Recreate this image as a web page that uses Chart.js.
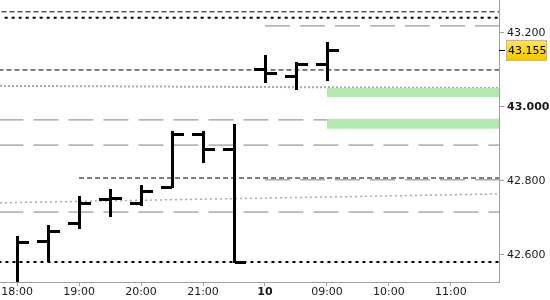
<!DOCTYPE html>
<html>
<head>
<meta charset="utf-8">
<script src="https://cdn.jsdelivr.net/npm/chart.js@4"></script>
<style>
  html, body { margin: 0; padding: 0; background: #fff; }
</style>
</head>
<body>
<canvas id="chart" width="550" height="300"></canvas>
<script>
// 30 minute bars, overnight gap between 21:30 and 08:00
const barTimes = ['18:00','18:30','19:00','19:30','20:00','20:30','21:00','21:30','08:00','08:30','09:00'];
const opens  = [42.505, 42.638, 42.686, 42.752, 42.741, 42.784, 42.927, 42.886, 43.103, 43.084, 43.116];
const highs  = [42.649, 42.678, 42.757, 42.776, 42.786, 42.932, 42.932, 42.951, 43.138, 43.119, 43.173];
const lows   = [42.500, 42.584, 42.673, 42.705, 42.735, 42.784, 42.851, 42.581, 43.068, 43.049, 43.073];
const closes = [42.635, 42.665, 42.741, 42.754, 42.773, 42.927, 42.886, 42.581, 43.092, 43.116, 43.155];

// x axis labels and the bar slot they sit on
const tickLabels = ['18:00','19:00','20:00','21:00','10','09:00','10:00','11:00'];
const tickSlots  = [0, 2, 4, 6, 8, 10, 12, 14];
const priceTicks = [42.6, 42.8, 43.0, 43.2];

// horizontal levels: price and the slot they start from
const levelValues = [43.257, 43.241, 43.219, 43.100, 42.965, 42.897, 42.808, 42.803, 42.716, 42.581];
const levelStarts = [-0.5, -0.4, 8, -0.6, -0.6, -0.6, 2, 8, -0.6, -0.6];
const levelKinds  = ['dash', 'dot', 'gray', 'dash', 'gray', 'gray', 'dash', 'gray', 'gray', 'dot'];

// sloped trend lines (value at left edge, value at right edge)
const trendUpper = [43.057, 43.051];
const trendLower = [42.741, 42.765];

// zones from 09:00 onwards
const zoneHigh  = [43.051, 42.968];
const zoneLow   = [43.027, 42.941];
const zoneMid   = 42.957;
const zoneStart = 10;

const xMin = -0.55, xMax = 15.55;
const yMin = 42.527, yMax = 43.289;

const styles = {
  dash: {borderColor: '#000', borderWidth: 1, borderDash: [5, 3]},
  dot:  {borderColor: '#000', borderWidth: 2, borderDash: [3, 4]},
  gray: {borderColor: '#808080', borderWidth: 1, borderDash: [25, 10]}
};

const datasets = [];
zoneHigh.forEach((hi, i) => {
  datasets.push({data: [{x: zoneStart, y: hi}, {x: xMax, y: hi}], borderWidth: 0,
    backgroundColor: '#b4e8b0', fill: '+1', pointRadius: 0});
  datasets.push({data: [{x: zoneStart, y: zoneLow[i]}, {x: xMax, y: zoneLow[i]}], borderWidth: 0,
    pointRadius: 0, fill: false});
});
datasets.push({data: [{x: zoneStart, y: zoneMid}, {x: xMax, y: zoneMid}],
  borderColor: '#5cc45a', borderWidth: 1, pointRadius: 0, fill: false});

levelValues.forEach((v, i) => {
  datasets.push(Object.assign({data: [{x: levelStarts[i], y: v}, {x: xMax, y: v}],
    pointRadius: 0, fill: false}, styles[levelKinds[i]]));
});
[trendUpper, trendLower].forEach((t, i) => {
  datasets.push({data: [{x: xMin, y: t[0]}, {x: xMax, y: t[1]}], pointRadius: 0, fill: false,
    borderColor: '#aaaaaa', borderWidth: i ? 1.5 : 2, borderDash: i ? [2, 3] : [2, 2]});
});

// OHLC bars drawn through the scales
const ohlcPlugin = {
  id: 'ohlc',
  afterDatasetsDraw(chart) {
    const {ctx, chartArea: a, scales: {x, y}} = chart;
    ctx.save();
    ctx.beginPath();
    ctx.rect(a.left, a.top, a.right - a.left, a.bottom - a.top);
    ctx.clip();
    ctx.fillStyle = '#000';
    const w = 11;
    barTimes.forEach((t, i) => {
      const px = Math.round(x.getPixelForValue(i));
      const yh = Math.round(y.getPixelForValue(highs[i]));
      const yl = Math.round(y.getPixelForValue(lows[i]));
      const yo = Math.round(y.getPixelForValue(opens[i]));
      const yc = Math.round(y.getPixelForValue(closes[i]));
      ctx.fillRect(px - 1, yh - 1, 3, yl - yh + 2);
      ctx.fillRect(px - w, yo - 1, w, 3);
      ctx.fillRect(px + 1, yc - 1, w, 3);
    });
    ctx.restore();
  }
};

// current price box on the right axis
const lastPricePlugin = {
  id: 'lastPrice',
  afterDraw(chart) {
    const {ctx, chartArea: a, scales: {y}} = chart;
    const last = closes[closes.length - 1];
    const py = Math.round(y.getPixelForValue(last));
    ctx.save();
    ctx.strokeStyle = '#000';
    ctx.lineWidth = 1;
    ctx.beginPath();
    ctx.moveTo(a.right, py + 0.5);
    ctx.lineTo(a.right + 6, py + 0.5);
    ctx.stroke();
    const g = ctx.createLinearGradient(0, py - 10, 0, py + 11);
    g.addColorStop(0, '#ffe45c');
    g.addColorStop(1, '#f5c400');
    ctx.fillStyle = g;
    ctx.fillRect(a.right + 7, py - 10, 41, 21);
    ctx.strokeStyle = '#c9b77a';
    ctx.strokeRect(a.right + 7.5, py - 9.5, 40, 20);
    ctx.fillStyle = '#000';
    ctx.font = '11px "DejaVu Sans"';
    ctx.textBaseline = 'middle';
    ctx.fillText(last.toFixed(3), a.right + 9, py + 1);
    ctx.restore();
  }
};

new Chart(document.getElementById('chart'), {
  type: 'scatter',
  data: {datasets},
  options: {
    responsive: false,
    animation: false,
    showLine: true,
    layout: {padding: 0},
    plugins: {legend: {display: false}, tooltip: {enabled: false}},
    elements: {line: {tension: 0}},
    scales: {
      x: {
        type: 'linear', min: xMin, max: xMax,
        afterBuildTicks: s => { s.ticks = tickSlots.map(v => ({value: v})); },
        afterFit: s => { s.height = 18; s.paddingLeft = 0; s.paddingRight = 0; },
        border: {color: '#a0a0a0'},
        grid: {drawOnChartArea: false, tickLength: 4, color: '#a0a0a0'},
        ticks: {
          padding: 0, color: '#1a1a1a', maxRotation: 0, autoSkip: false,
          font: ctx => ({family: '"DejaVu Sans"', size: 11,
            weight: ctx.tick && ctx.tick.value === 8 ? 'bold' : 'normal'}),
          callback: v => tickLabels[tickSlots.indexOf(v)]
        }
      },
      y: {
        position: 'right', min: yMin, max: yMax,
        afterBuildTicks: s => { s.ticks = priceTicks.map(v => ({value: v})); },
        afterFit: s => { s.width = 51; s.paddingTop = 0; s.paddingBottom = 0; },
        border: {color: '#a0a0a0'},
        grid: {drawOnChartArea: false, tickLength: 5, color: '#a0a0a0'},
        ticks: {
          padding: 3, color: '#1a1a1a',
          font: ctx => ({family: '"DejaVu Sans"', size: 11,
            weight: ctx.tick && Math.abs(ctx.tick.value - 43) < 1e-6 ? 'bold' : 'normal'}),
          callback: v => v.toFixed(3)
        }
      }
    }
  },
  plugins: [ohlcPlugin, lastPricePlugin]
});
</script>
</body>
</html>
